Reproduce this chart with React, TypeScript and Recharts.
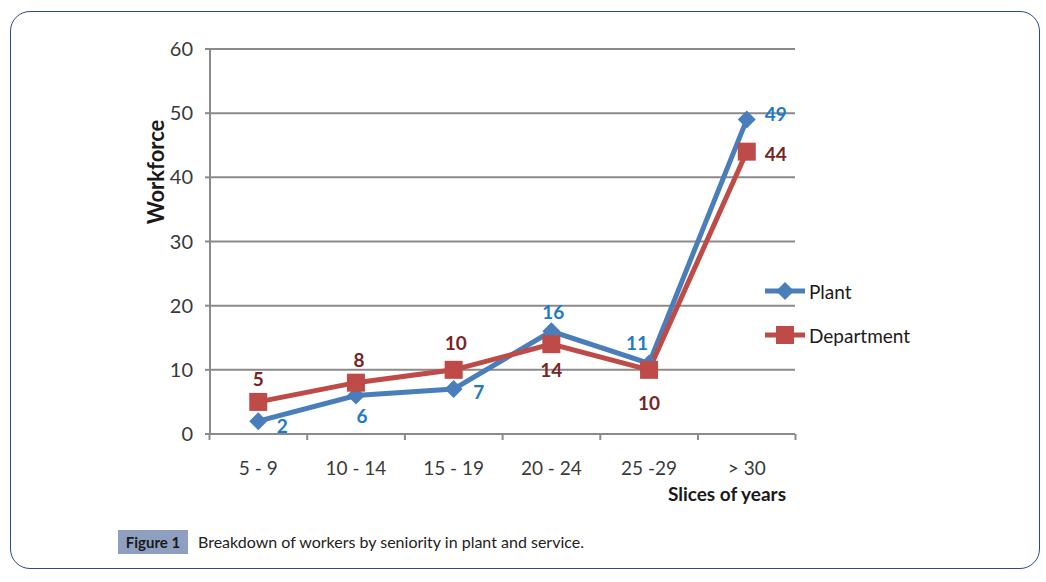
import { LineChart, Line, XAxis, YAxis, CartesianGrid, LabelList } from "recharts";

const slices = ["5 - 9", "10 - 14", "15 - 19", "20 - 24", "25 -29", "> 30"];
const plant = [2, 6, 7, 16, 11, 49];
const department = [5, 8, 10, 14, 10, 44];
const yTicks = [0, 10, 20, 30, 40, 50, 60];

const data = slices.map((slice, i) => ({ slice, plant: plant[i], department: department[i] }));

const FONT = "Lato, 'Noto Sans', sans-serif";
const BLUE = "#4a7ebb";
const RED = "#be4b48";
const GRID = "#8a8a8a";

// plot spans x 210..795, y 49..434
const BAND = (795 - 210) / 6;

// label offsets relative to each point (layout only)
const plantOffsets = [[24, 4], [6, 20], [25, 2], [2, -20], [-12, -21], [29, -6]];
const deptOffsets = [[0, -23], [3, -23], [2, -27], [0, 25], [0, 33], [29, 2]];

function Diamond(props: any) {
  const { cx, cy } = props;
  if (cx == null || cy == null) return null;
  const r = 9;
  return <polygon points={`${cx},${cy - r} ${cx + r},${cy} ${cx},${cy + r} ${cx - r},${cy}`} fill={BLUE} />;
}

function Square(props: any) {
  const { cx, cy } = props;
  if (cx == null || cy == null) return null;
  return <rect x={cx - 9} y={cy - 9} width={18} height={18} fill={RED} />;
}

function makeLabel(offsets: number[][], color: string) {
  return (props: any) => {
    const { x, y, value, index } = props;
    const [dx, dy] = offsets[index];
    return (
      <text x={x + dx} y={y + dy} textAnchor="middle" dominantBaseline="central"
        fill={color} fontSize={19} fontWeight="bold" fontFamily={FONT}>
        {value}
      </text>
    );
  };
}

function XTick(props: any) {
  const { x, y, payload, index } = props;
  const left = x - BAND / 2;
  return (
    <g>
      <line x1={left} y1={y} x2={left} y2={y + 6} stroke={GRID} strokeWidth={2} />
      {index === slices.length - 1 && (
        <line x1={x + BAND / 2} y1={y} x2={x + BAND / 2} y2={y + 6} stroke={GRID} strokeWidth={2} />
      )}
      <text x={x} y={y + 33} textAnchor="middle" dominantBaseline="central" fill="#3a3a3a" fontSize={19} fontFamily={FONT}>
        {payload.value}
      </text>
    </g>
  );
}

function LegendBox() {
  const items = [
    { name: "Plant", mark: "diamond", color: BLUE },
    { name: "Department", mark: "square", color: RED },
  ];
  return (
    <svg width={170} height={90}>
      {items.map((it, i) => {
        const cy = 11 + i * 44;
        return (
          <g key={it.name}>
            <line x1={2} y1={cy} x2={42} y2={cy} stroke={it.color} strokeWidth={5} />
            {it.mark === "diamond" ? <Diamond cx={22} cy={cy} /> : <Square cx={22} cy={cy} />}
            <text x={46} y={cy} dominantBaseline="central" fontSize={19} fill="#1a1a1a" fontFamily={FONT}>
              {it.name}
            </text>
          </g>
        );
      })}
    </svg>
  );
}

export default function App() {
  return (
    <div style={{ position: "absolute", left: 0, top: 0, width: 1046, height: 582, background: "#fff", fontFamily: FONT }}>
      <div style={{
        position: "absolute", left: 10, top: 11, width: 1028, height: 556,
        border: "1.5px solid #2b4a86", borderRadius: 20,
      }} />
      <LineChart width={1046} height={582} data={data}
        margin={{ top: 49, right: 251, bottom: 108, left: 150 }}>
        <CartesianGrid vertical={false} stroke={GRID} strokeWidth={2} />
        <XAxis dataKey="slice" padding={{ left: BAND / 2 - 0.5, right: BAND / 2 - 0.5 }}
          axisLine={{ stroke: GRID, strokeWidth: 2 }} tickLine={false} tickSize={0} tickMargin={0} height={40}
          tick={<XTick />} interval={0} />
        <YAxis domain={[0, 60]} ticks={yTicks} width={60}
          axisLine={{ stroke: GRID, strokeWidth: 2 }} tickLine={{ stroke: GRID, strokeWidth: 2 }} tickSize={5}
          tickMargin={12} tick={{ fill: "#3a3a3a", fontSize: 20, fontFamily: FONT }} />
        <Line dataKey="plant" name="Plant" stroke={BLUE} strokeWidth={5} dot={<Diamond />}
          activeDot={false} isAnimationActive={false}>
          <LabelList dataKey="plant" content={makeLabel(plantOffsets, "#1f7ac4")} />
        </Line>
        <Line dataKey="department" name="Department" stroke={RED} strokeWidth={5} dot={<Square />}
          activeDot={false} isAnimationActive={false}>
          <LabelList dataKey="department" content={makeLabel(deptOffsets, "#772526")} />
        </Line>
      </LineChart>
      <div style={{ position: "absolute", left: 763, top: 280 }}>
        <LegendBox />
      </div>
      <div style={{
        position: "absolute", left: 155, top: 172, transform: "translate(-50%, -50%) rotate(-90deg)",
        fontSize: 22, fontWeight: "bold", color: "#1a1a1a", whiteSpace: "nowrap",
      }}>Workforce</div>
      <div style={{
        position: "absolute", right: 1046 - 786, top: 482, fontSize: 19, fontWeight: "bold",
        color: "#1a1a1a", whiteSpace: "nowrap",
      }}>Slices of years</div>
      <div style={{
        position: "absolute", left: 118, top: 530, width: 70, height: 24, background: "#8e9fc0",
        fontSize: 15, fontWeight: "bold", color: "#1a1a1a", display: "flex", alignItems: "center",
        justifyContent: "center",
      }}>Figure 1</div>
      <div style={{ position: "absolute", left: 198, top: 532, fontSize: 16, color: "#222" }}>
        Breakdown of workers by seniority in plant and service.
      </div>
    </div>
  );
}
